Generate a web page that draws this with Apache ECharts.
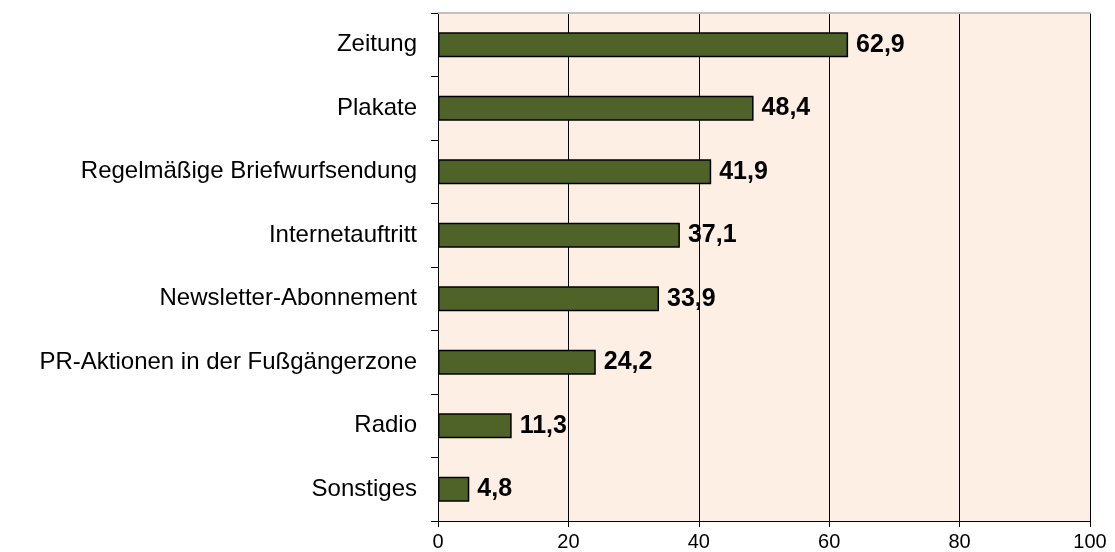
<!DOCTYPE html>
<html>
<head>
<meta charset="utf-8">
<script src="https://cdn.jsdelivr.net/npm/echarts@6/dist/echarts.min.js"></script>
<style>
  html, body { margin: 0; padding: 0; background: #fff; }
  #chart { width: 1115px; height: 552px; }
</style>
</head>
<body>
<div id="chart"></div>
<script>
// Daten (von oben nach unten)
const categories = ['Zeitung', 'Plakate', 'Regelmäßige Briefwurfsendung', 'Internetauftritt',
  'Newsletter-Abonnement', 'PR-Aktionen in der Fußgängerzone', 'Radio', 'Sonstiges'];
const values = [62.9, 48.4, 41.9, 37.1, 33.9, 24.2, 11.3, 4.8];
const xTicks = [0, 20, 40, 60, 80, 100];

const chart = echarts.init(document.getElementById('chart'));

const option = {
  animation: false,
  textStyle: { fontFamily: 'Liberation Sans, Arial, sans-serif' },
  grid: {
    left: 438,
    right: 25,
    top: 13,
    bottom: 31,
    show: true,
    backgroundColor: '#fdefe4',
    borderWidth: 0
  },
  xAxis: [
    {
      type: 'value',
      min: 0,
      max: 100,
      interval: 20,
      axisLine: { show: true, lineStyle: { color: '#000', width: 1 } },
      axisTick: { show: true, length: 6, lineStyle: { color: '#000' } },
      axisLabel: {
        color: '#000',
        fontSize: 20,
        margin: 11,
        formatter: v => xTicks.includes(v) ? String(v) : ''
      },
      splitLine: { show: true, lineStyle: { color: '#000', width: 1 } }
    },
    {
      // graue Oberkante
      type: 'value',
      position: 'top',
      min: 0,
      max: 100,
      axisLine: { show: true, lineStyle: { color: '#c0c0c0', width: 2 } },
      axisTick: { show: false },
      axisLabel: { show: false },
      splitLine: { show: false }
    }
  ],
  yAxis: {
    type: 'category',
    inverse: true,
    data: categories,
    axisLine: { show: true, lineStyle: { color: '#000', width: 1 } },
    axisTick: { show: true, length: 7, lineStyle: { color: '#000' } },
    axisLabel: { color: '#000', fontSize: 24, margin: 21 }
  },
  series: [
    {
      type: 'bar',
      data: values,
      barCategoryGap: '61%',
      itemStyle: { color: '#4f6228', borderColor: '#000', borderWidth: 1.5 },
      label: {
        show: true,
        position: 'right',
        distance: 8,
        color: '#000',
        fontSize: 25,
        fontWeight: 'bold',
        formatter: p => p.value.toFixed(1).replace('.', ',')
      }
    }
  ]
};

chart.setOption(option);
</script>
</body>
</html>
